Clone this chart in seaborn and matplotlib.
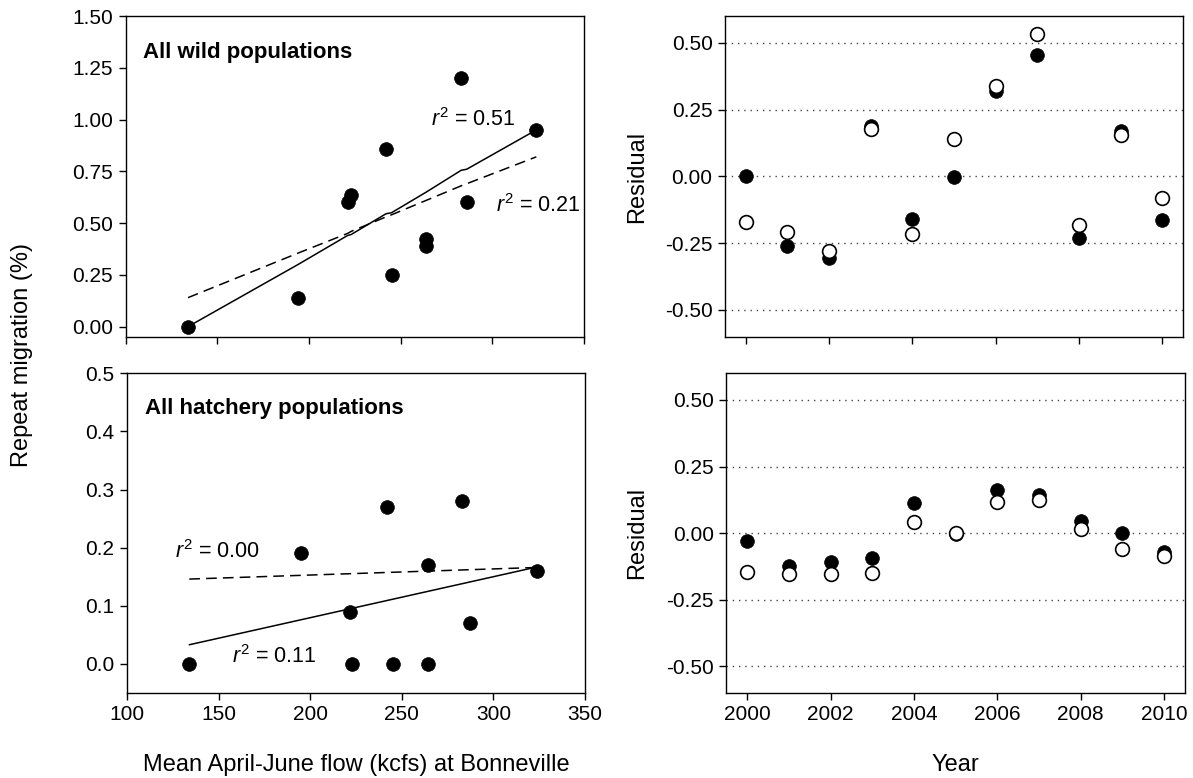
import matplotlib
matplotlib.use("Agg")
import matplotlib.pyplot as plt
import seaborn as sns
import numpy as np
import pandas as pd

# ---------------- data ----------------
flow = [134, 194, 221, 223, 242, 245, 264, 264, 283, 286, 324]
wild_rate = [0.00, 0.14, 0.60, 0.635, 0.86, 0.25, 0.425, 0.39, 1.20, 0.60, 0.95]
hatch_flow = [134, 195, 221.5, 223, 242, 245, 264.5, 264.5, 283, 287, 324]
hatch_rate = [0.00, 0.19, 0.09, 0.00, 0.27, 0.00, 0.17, 0.00, 0.28, 0.07, 0.16]

# fitted lines
wild_fit_solid = [0.00, 0.30, 0.44, 0.445, 0.545, 0.55, 0.65, 0.65, 0.755, 0.76, 0.95]
wild_fit_dashed = [0.14, 0.355, 0.45, 0.46, 0.53, 0.54, 0.61, 0.61, 0.68, 0.69, 0.82]
hatch_fit_x = [134, 324]
hatch_fit_solid = [0.033, 0.167]
hatch_fit_dashed = [0.146, 0.166]

years = [2000, 2001, 2002, 2003, 2004, 2005, 2006, 2007, 2008, 2009, 2010]
wild_resid_filled = [0.003, -0.259, -0.304, 0.188, -0.161, -0.002, 0.318, 0.455, -0.231, 0.168, -0.162]
wild_resid_open = [-0.170, -0.209, -0.280, 0.178, -0.214, 0.138, 0.338, 0.534, -0.181, 0.153, -0.080]
hatch_resid_filled = [-0.031, -0.124, -0.110, -0.095, 0.115, -0.003, 0.161, 0.143, 0.045, -0.001, -0.070]
hatch_resid_open = [-0.145, -0.155, -0.154, -0.151, 0.040, 0.001, 0.118, 0.124, 0.015, -0.061, -0.086]

left_xticks = [100, 150, 200, 250, 300, 350]
wild_yticks = [0.00, 0.25, 0.50, 0.75, 1.00, 1.25, 1.50]
hatch_yticks = [0.0, 0.1, 0.2, 0.3, 0.4, 0.5]
resid_yticks = [-0.50, -0.25, 0.00, 0.25, 0.50]
year_ticks = [2000, 2002, 2004, 2006, 2008, 2010]

# ---------------- style ----------------
sns.set_style("ticks")
plt.rcParams['font.family'] = ['Liberation Sans', 'DejaVu Sans']
plt.rcParams['axes.unicode_minus'] = False
plt.rcParams['mathtext.fontset'] = 'custom'
plt.rcParams['mathtext.it'] = 'Liberation Sans:italic'
plt.rcParams['mathtext.rm'] = 'Liberation Sans'
plt.rcParams['text.color'] = 'black'
plt.rcParams['axes.labelcolor'] = 'black'

FS = 15      # tick labels
LFS = 17     # axis labels
TFS = 16     # panel titles
RFS = 15.5   # r^2 labels
W, H = 1193, 778
fig = plt.figure(figsize=(W / 100, H / 100), dpi=100)


def box(l, t, r, b):
    return [l / W, 1 - b / H, (r - l) / W, (b - t) / H]


ax_tl = fig.add_axes(box(125.7, 16, 584, 337))
ax_bl = fig.add_axes(box(127, 373.3, 585, 693))
ax_tr = fig.add_axes(box(725, 16, 1183, 336.7))
ax_br = fig.add_axes(box(726.3, 373.3, 1185, 693))

for ax in (ax_tl, ax_bl, ax_tr, ax_br):
    for s in ax.spines.values():
        s.set_visible(True)
        s.set_color('black')
        s.set_linewidth(1.0)
    ax.tick_params(direction='out', length=5, width=1, color='black',
                   labelsize=FS, labelcolor='black', pad=4)

MS = 98
dot_kw = dict(s=MS, color='black', edgecolor='black', linewidth=0.5, zorder=3)
LW = 1.1
DASH = (7, 4)

# ---- top-left: wild populations ----
df_w = pd.DataFrame({'flow': flow, 'rate': wild_rate,
                     'solid': wild_fit_solid, 'dashed': wild_fit_dashed})
sns.lineplot(data=df_w, x='flow', y='solid', estimator=None, sort=False,
             color='black', linewidth=LW, ax=ax_tl)
sns.lineplot(data=df_w, x='flow', y='dashed', estimator=None, sort=False,
             color='black', linewidth=LW, ax=ax_tl)
ax_tl.lines[-1].set_dashes(DASH)
sns.scatterplot(data=df_w, x='flow', y='rate', ax=ax_tl, legend=False, **dot_kw)
ax_tl.set_xlim(100, 350)
ax_tl.set_ylim(-0.05, 1.5)
ax_tl.set_xticks(left_xticks)
ax_tl.set_xticklabels([])
ax_tl.set_yticks(wild_yticks)
ax_tl.set_yticklabels([f"{v:.2f}" for v in wild_yticks])
ax_tl.text(109.5, 1.326, "All wild populations", fontsize=TFS, fontweight='bold', va='center', ha='left')
ax_tl.text(266.5, 1.0, r"$\mathit{r}^{\mathrm{2}}$ = 0.51", fontsize=RFS, va='center', ha='left')
ax_tl.text(302, 0.585, r"$\mathit{r}^{\mathrm{2}}$ = 0.21", fontsize=RFS, va='center', ha='left')
ax_tl.set_xlabel('')
ax_tl.set_ylabel('')

# ---- bottom-left: hatchery populations ----
df_h = pd.DataFrame({'flow': hatch_flow, 'rate': hatch_rate})
df_hf = pd.DataFrame({'x': hatch_fit_x, 'solid': hatch_fit_solid, 'dashed': hatch_fit_dashed})
sns.lineplot(data=df_hf, x='x', y='solid', estimator=None, color='black', linewidth=LW, ax=ax_bl)
sns.lineplot(data=df_hf, x='x', y='dashed', estimator=None, color='black', linewidth=LW, ax=ax_bl)
ax_bl.lines[-1].set_dashes(DASH)
sns.scatterplot(data=df_h, x='flow', y='rate', ax=ax_bl, legend=False, **dot_kw)
ax_bl.set_xlim(100, 350)
ax_bl.set_ylim(-0.05, 0.5)
ax_bl.set_xticks(left_xticks)
ax_bl.set_xticklabels([str(v) for v in left_xticks])
ax_bl.set_yticks(hatch_yticks)
ax_bl.set_yticklabels([f"{v:.1f}" for v in hatch_yticks])
ax_bl.text(109.8, 0.44, "All hatchery populations", fontsize=TFS, fontweight='bold', va='center', ha='left')
ax_bl.text(126, 0.194, r"$\mathit{r}^{\mathrm{2}}$ = 0.00", fontsize=RFS, va='center', ha='left')
ax_bl.text(157.5, 0.012, r"$\mathit{r}^{\mathrm{2}}$ = 0.11", fontsize=RFS, va='center', ha='left')
ax_bl.set_xlabel('')
ax_bl.set_ylabel('')

# ---- right: residuals ----
def resid_panel(ax, filled, opened, show_x):
    df = pd.DataFrame({'year': years, 'filled': filled, 'open': opened})
    for v in resid_yticks:
        ax.axhline(v, color='#444444', linewidth=1.0, linestyle=(0, (1, 3.5)), zorder=1)
    sns.scatterplot(data=df, x='year', y='filled', ax=ax, legend=False, **dot_kw)
    sns.scatterplot(data=df, x='year', y='open', ax=ax, legend=False, s=MS,
                    color='white', edgecolor='black', linewidth=1.2, zorder=4)
    ax.set_xlim(1999.5, 2010.5)
    ax.set_ylim(-0.6, 0.6)
    ax.set_xticks(year_ticks)
    ax.set_xticklabels([str(v) for v in year_ticks] if show_x else [])
    ax.set_yticks(resid_yticks)
    ax.set_yticklabels([f"{v:.2f}" for v in resid_yticks])
    ax.set_ylabel('')
    ax.set_xlabel('')


resid_panel(ax_tr, wild_resid_filled, wild_resid_open, False)
resid_panel(ax_br, hatch_resid_filled, hatch_resid_open, True)

# ---- axis labels (figure-level placement) ----
fig.text(356 / W, 1 - 765 / H, "Mean April-June flow (kcfs) at Bonneville",
         fontsize=LFS, ha='center', va='center')
fig.text(955 / W, 1 - 765 / H, "Year", fontsize=LFS, ha='center', va='center')
fig.text(637 / W, 1 - 177 / H, "Residual", rotation=90, fontsize=LFS, ha='center', va='center')
fig.text(637 / W, 1 - 533 / H, "Residual", rotation=90, fontsize=LFS, ha='center', va='center')
fig.text(22 / W, 1 - 355 / H, "Repeat migration (%)", rotation=90, fontsize=LFS,
         ha='center', va='center')

fig.savefig("out.png", dpi=100)
